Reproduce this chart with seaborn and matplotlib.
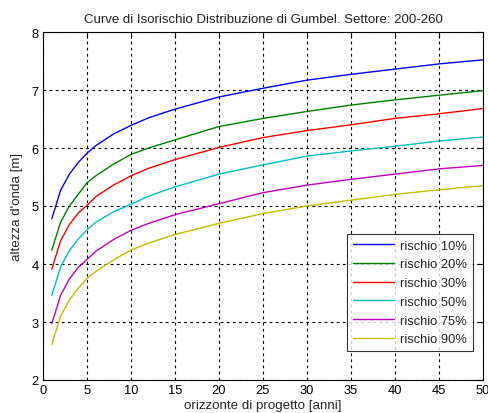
import matplotlib
matplotlib.use("Agg")
import matplotlib.pyplot as plt
import seaborn as sns
import pandas as pd

# ---- data ----
anni = [1, 2, 3, 4, 5, 6, 8, 10, 12, 15, 20, 25, 30, 35, 40, 45, 50]
rischio_10 = [4.78, 5.27, 5.55, 5.75, 5.91, 6.04, 6.24, 6.39, 6.52, 6.67, 6.88, 7.03, 7.17, 7.27, 7.36, 7.45, 7.52]
rischio_20 = [4.24, 4.72, 5.00, 5.20, 5.40, 5.52, 5.72, 5.89, 6.00, 6.14, 6.37, 6.51, 6.63, 6.74, 6.83, 6.91, 6.99]
rischio_30 = [3.91, 4.40, 4.68, 4.88, 5.01, 5.16, 5.36, 5.52, 5.65, 5.80, 6.01, 6.18, 6.30, 6.40, 6.51, 6.59, 6.68]
rischio_50 = [3.46, 3.95, 4.23, 4.43, 4.59, 4.72, 4.90, 5.03, 5.17, 5.33, 5.55, 5.71, 5.86, 5.95, 6.03, 6.12, 6.19]
rischio_75 = [2.97, 3.46, 3.74, 3.94, 4.08, 4.22, 4.42, 4.58, 4.70, 4.85, 5.04, 5.23, 5.36, 5.46, 5.55, 5.64, 5.70]
rischio_90 = [2.61, 3.10, 3.38, 3.58, 3.75, 3.87, 4.07, 4.24, 4.36, 4.51, 4.70, 4.87, 5.00, 5.10, 5.20, 5.28, 5.35]
etichette = ["rischio 10%", "rischio 20%", "rischio 30%", "rischio 50%", "rischio 75%", "rischio 90%"]
colori = ["#0000ff", "#008000", "#ff0000", "#00bfbf", "#bf00bf", "#bfbf00"]
x_ticks = [0, 5, 10, 15, 20, 25, 30, 35, 40, 45, 50]
y_ticks = [2, 3, 4, 5, 6, 7, 8]

serie = [rischio_10, rischio_20, rischio_30, rischio_50, rischio_75, rischio_90]
rows = []
for lab, vals in zip(etichette, serie):
    for xv, yv in zip(anni, vals):
        rows.append({"anni": xv, "altezza": yv, "serie": lab})
df = pd.DataFrame(rows)

sns.set_style("white")
plt.rcParams["font.family"] = ["Liberation Sans", "DejaVu Sans"]

fig = plt.figure(figsize=(4.89, 4.14), dpi=100)
ax = fig.add_axes([43 / 489, 1 - 381 / 414, 440 / 489, 348 / 414])

sns.lineplot(data=df, x="anni", y="altezza", hue="serie", hue_order=etichette,
             palette=colori, linewidth=1.0, ax=ax, legend=True)

ax.set_xlim(0, 50)
ax.set_ylim(2, 8)
ax.set_xticks(x_ticks)
ax.set_yticks(y_ticks)
ax.grid(True, color="black", linestyle=(0, (2.5, 3)), linewidth=0.8)
ax.set_axisbelow(True)
for s in ax.spines.values():
    s.set_color("black")
    s.set_linewidth(0.8)
    s.set_visible(True)
ax.tick_params(direction="in", top=True, right=True, length=4, width=0.8,
               labelsize=9.3, colors="black", pad=3)

ax.set_title("Curve di Isorischio Distribuzione di Gumbel. Settore: 200-260",
             fontsize=9.5, color="#222222", pad=7)
ax.set_xlabel("orizzonte di progetto [anni]", fontsize=9.6, labelpad=2)
ax.set_ylabel("altezza d'onda [m]", fontsize=9.6, labelpad=6)

leg = ax.legend(loc="lower right", bbox_to_anchor=(0.977, 0.083), borderaxespad=0,
                fontsize=9.3, frameon=True, fancybox=False, edgecolor="black",
                handlelength=3.2, handletextpad=0.45, labelspacing=0.52,
                borderpad=0.45, title=None)
leg.get_frame().set_linewidth(0.8)
for line in leg.get_lines():
    line.set_linewidth(1.0)

fig.savefig("out.png", dpi=100)
